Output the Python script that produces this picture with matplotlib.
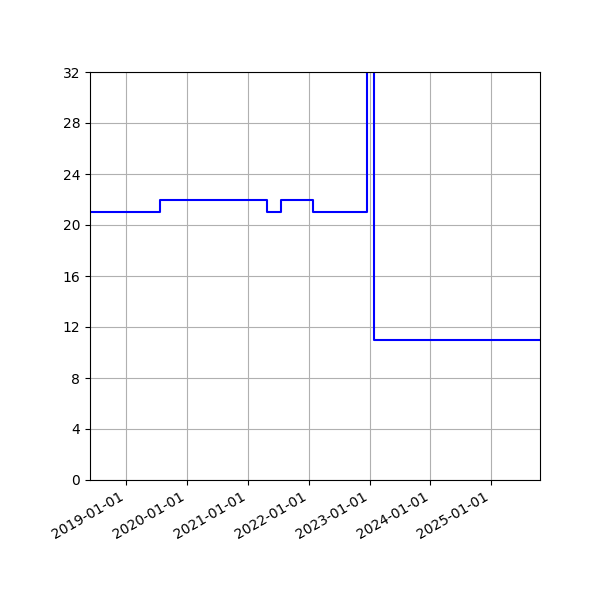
import numpy as np
import pandas as pd
import matplotlib
matplotlib.use("Agg")
import matplotlib.pyplot as plt
import matplotlib.dates as mdates

# step change dates and the value held from each date on
dates = pd.to_datetime([
    "2018-05-27", "2019-07-20", "2021-04-25", "2021-07-20",
    "2022-01-23", "2022-12-18", "2023-01-29", "2025-10-21",
])
values = [21, 22, 21, 22, 21, 40, 11, 11]

fig, ax = plt.subplots(figsize=(6, 6), dpi=100)
ax.step(dates, values, where="post", color="blue")

ax.set_xlim(dates[0], dates[-1])
ax.set_ylim(0, 32)
ax.set_yticks(np.arange(0, 33, 4))
ax.xaxis.set_major_locator(mdates.YearLocator())
ax.xaxis.set_major_formatter(mdates.DateFormatter("%Y-%m-%d"))
ax.grid(True)

fig.autofmt_xdate()
fig.subplots_adjust(left=0.15, right=0.9, top=0.88, bottom=0.2)
fig.savefig("out.png", dpi=100)
